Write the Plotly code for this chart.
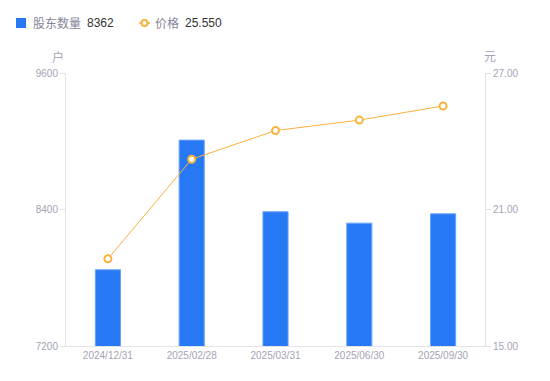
import plotly.graph_objects as go

categories = ["2024/12/31", "2025/02/28", "2025/03/31", "2025/06/30", "2025/09/30"]
holders = [7870, 9010, 8380, 8280, 8362]
price = [18.83, 23.21, 24.47, 24.93, 25.55]

holders_label = "股东数量"
price_label = "价格"
left_unit = "户"
right_unit = "元"

FONT = "Liberation Sans, Noto Sans CJK SC, sans-serif"
GRAY = "#a3a3b3"
LEGEND_GRAY = "#85859a"
DARK = "#333333"
AXIS = "#e3e3e8"
BLUE = "#2778f4"
ORANGE = "#f9b23c"

# page offset (default body margin)
OFF = 8
PL, PT, PW, PH = 66, 73, 419, 273  # plot area in page pixels

fig = go.Figure()
fig.add_trace(go.Bar(
    x=categories, y=holders, width=0.3,
    marker=dict(color=BLUE, line=dict(color="#6aa4f8", width=1)),
    name=holders_label, yaxis="y", showlegend=False,
))
fig.add_trace(go.Scatter(
    x=categories, y=price, mode="lines+markers",
    line=dict(color=ORANGE, width=1),
    marker=dict(symbol="circle", size=7, color="white", line=dict(color=ORANGE, width=2)),
    name=price_label, yaxis="y2", showlegend=False,
))


def ann(text, px, py, color, size=12, anchor="left"):
    return dict(text=text, xref="paper", yref="paper", x=0, y=1,
                xshift=px - PL, yshift=PT - py, showarrow=False,
                font=dict(size=size, color=color), xanchor=anchor, yanchor="middle")


annotations = [
    ann(holders_label, 31, 23, LEGEND_GRAY),
    ann(str(holders[-1]), 85, 23, DARK),
    ann(price_label, 153, 23, LEGEND_GRAY),
    ann(f"{price[-1]:.3f}", 183, 23, DARK),
    ann(left_unit, 58, 57, GRAY, anchor="center"),
    ann(right_unit, 490, 57, GRAY, anchor="center"),
]

shapes = [
    dict(type="rect", xref="paper", yref="paper", xsizemode="pixel", ysizemode="pixel",
         xanchor=0, yanchor=1, x0=16 - PL, x1=26 - PL, y0=PT - 28, y1=PT - 18,
         fillcolor=BLUE, line=dict(width=0)),
    dict(type="line", xref="paper", yref="paper", xsizemode="pixel", ysizemode="pixel",
         xanchor=0, yanchor=1, x0=139 - PL, x1=150 - PL, y0=PT - 23, y1=PT - 23,
         line=dict(color=ORANGE, width=1.5)),
    dict(type="circle", xref="paper", yref="paper", xsizemode="pixel", ysizemode="pixel",
         xanchor=0, yanchor=1, x0=141.5 - PL, x1=147.5 - PL, y0=PT - 26, y1=PT - 20,
         fillcolor="white", line=dict(color=ORANGE, width=2)),
]

W, H = 550, 381
ml = PL - OFF
mt = PT - OFF
mr = W - ml - PW
mb = H - mt - PH

fig.update_layout(
    width=W, height=H,
    margin=dict(l=ml, r=mr, t=mt, b=mb, autoexpand=False),
    paper_bgcolor="white", plot_bgcolor="white",
    font=dict(family=FONT, size=10, color=GRAY),
    showlegend=False,
    xaxis=dict(
        type="category", showline=True, linecolor=AXIS, linewidth=1,
        ticks="", showgrid=False, tickfont=dict(size=10, color=GRAY),
        range=[-0.5, 4.5], automargin=False,
    ),
    yaxis=dict(
        range=[7200, 9600], tickvals=[7200, 8400, 9600],
        showgrid=False, zeroline=False, showline=True, linecolor=AXIS, linewidth=1,
        ticks="outside", ticklen=5, tickcolor=AXIS,
        tickfont=dict(size=10, color=GRAY), automargin=False,
    ),
    yaxis2=dict(
        range=[15, 27], tickvals=[15, 21, 27], ticktext=["15.00", "21.00", "27.00"],
        overlaying="y", side="right",
        showgrid=False, zeroline=False, showline=True, linecolor=AXIS, linewidth=1,
        ticks="outside", ticklen=5, tickcolor=AXIS,
        tickfont=dict(size=10, color=GRAY), automargin=False,
    ),
    annotations=annotations,
    shapes=shapes,
)

fig.write_html("out.html")
